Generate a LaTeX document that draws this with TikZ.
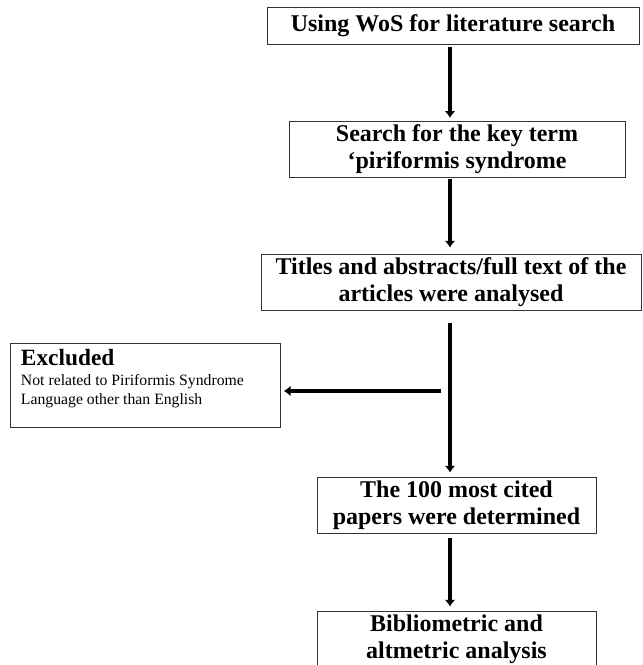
\documentclass[tikz,border=0pt]{standalone}
\usepackage{fontspec}
\setmainfont{Liberation Serif}
\usepackage{tikz}
\usetikzlibrary{arrows.meta}
\usetikzlibrary{calc}
\tikzset{
  stage/.style={
      draw=black!80, line width=0.75pt, fill=white,
      align=center, inner sep=0pt,
      font=\fontsize{18}{20.25}\selectfont\bfseries
    },
  excludedbox/.style={
      draw=black!80, line width=0.75pt, inner xsep=8.25pt, inner ysep=3pt
    },
  flow/.style={
      line width=3.2pt, -{Latex[length=5pt,width=8pt]}
    },
}

\begin{document}
\begin{tikzpicture}[x=0.75pt, y=-0.75pt]
      \useasboundingbox (0,0) rectangle (643,665);

      % main column of the flow
      \node [stage, minimum width=279pt, minimum height=27.75pt] (wos) at (453,25.5)
      {Using WoS for literature search};
      \node [stage, minimum width=252pt, minimum height=42pt] (search) at (457,149)
      {Search for the key term\\ ‘piriformis syndrome};
      \node [stage, minimum width=285pt, minimum height=42pt] (titles) at (451,282)
      {Titles and abstracts/full text of the\\ articles were analysed};
      \node [stage, minimum width=209.25pt, minimum height=42pt] (cited) at (456.5,505)
      {The 100 most cited\\ papers were determined};
      \node [stage, minimum width=209.25pt, minimum height=42pt] (biblio) at (456.5,639)
      {Bibliometric and\\ altmetric analysis};

      % side box
      \node [excludedbox] (excl) at (145,385)
      {\parbox[c][57pt][t]{186pt}{\vspace*{2pt}\fontsize{17.5}{17}\selectfont\bfseries Excluded\par
          \fontsize{11.8}{14.5}\selectfont\mdseries Not related to Piriformis Syndrome\\
          Language other than English}};

      \coordinate (spine) at (450,0);
      \coordinate (branch) at (441,391);

      \draw [flow, shorten <=2pt, shorten >=2pt] (wos.south -| spine) -- (search.north -| spine);
      \draw [flow, shorten <=1pt, shorten >=4.5pt] (search.south -| spine) -- (titles.north -| spine);
      \draw [flow, shorten <=9pt, shorten >=3pt] (titles.south -| spine) -- (cited.north -| spine);
      \draw [flow, shorten <=3pt, shorten >=3pt] (cited.south -| spine) -- (biblio.north -| spine);

      % branch to the excluded papers
      \draw [flow, shorten >=2.5pt] (branch) -- (branch -| excl.east);
    \end{tikzpicture}
\end{document}
